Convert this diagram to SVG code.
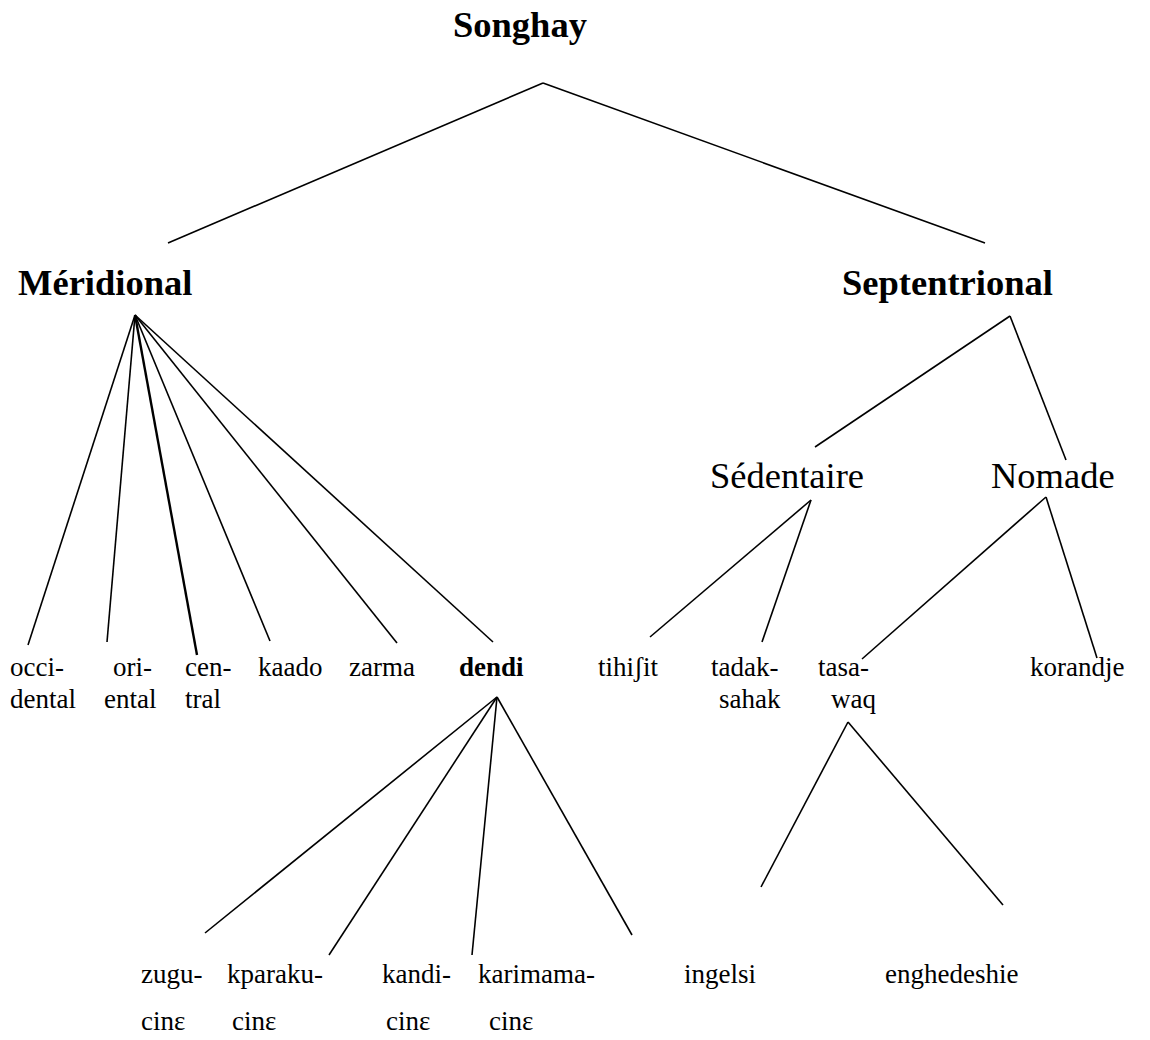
<svg xmlns="http://www.w3.org/2000/svg" width="1150" height="1040" viewBox="0 0 1150 1040">
<style>
text{font-family:"Liberation Serif","Times New Roman",serif;fill:#000}
.big{font-size:36.5px}
.b{font-weight:bold}
.sm{font-size:27px}
#edges line{stroke:#000;stroke-width:1.6;fill:none}
</style>
<rect width="1150" height="1040" fill="#fff"/>
<g id="edges">
<line x1="543" y1="83" x2="168" y2="243"/>
<line x1="543" y1="83" x2="985" y2="243"/>
<line x1="135" y1="315" x2="28" y2="645"/>
<line x1="135" y1="315" x2="107" y2="642"/>
<line x1="135" y1="315" x2="197" y2="655" style="stroke-width:2.4"/>
<line x1="135" y1="315" x2="270" y2="641"/>
<line x1="135" y1="315" x2="397" y2="643"/>
<line x1="135" y1="315" x2="493" y2="642"/>
<line x1="1010" y1="316" x2="815" y2="447"/>
<line x1="1010" y1="316" x2="1066" y2="460"/>
<line x1="811" y1="500" x2="650" y2="637"/>
<line x1="811" y1="500" x2="762" y2="642"/>
<line x1="1046" y1="497" x2="862" y2="659"/>
<line x1="1046" y1="497" x2="1097" y2="658"/>
<line x1="497" y1="697" x2="205" y2="933"/>
<line x1="497" y1="697" x2="329" y2="955"/>
<line x1="497" y1="697" x2="472" y2="955"/>
<line x1="497" y1="697" x2="632" y2="935"/>
<line x1="848" y1="722" x2="761" y2="887"/>
<line x1="848" y1="722" x2="1003" y2="905"/>
</g>
<g id="songhay"><text class="big b" x="453" y="37">Songhay</text></g>
<g id="meridional"><text class="big b" x="18" y="295">Méridional</text></g>
<g id="septentrional"><text class="big b" x="842" y="295">Septentrional</text></g>
<g id="sedentaire"><text class="big" x="710" y="488">Sédentaire</text></g>
<g id="nomade"><text class="big" x="991" y="488">Nomade</text></g>
<g id="occidental"><text class="sm" x="10" y="676">occi-</text><text class="sm" x="10" y="708">dental</text></g>
<g id="oriental"><text class="sm" x="113" y="676">ori-</text><text class="sm" x="104" y="708">ental</text></g>
<g id="central"><text class="sm" x="185" y="676">cen-</text><text class="sm" x="185" y="708">tral</text></g>
<g id="kaado"><text class="sm" x="258" y="676">kaado</text></g>
<g id="zarma"><text class="sm" x="349" y="676">zarma</text></g>
<g id="dendi"><text class="sm b" x="459" y="676">dendi</text></g>
<g id="tihisit"><text class="sm" x="598" y="676">tihiʃit</text></g>
<g id="tadaksahak"><text class="sm" x="711" y="676">tadak-</text><text class="sm" x="719" y="708">sahak</text></g>
<g id="tasawaq"><text class="sm" x="818" y="676">tasa-</text><text class="sm" x="831" y="708">waq</text></g>
<g id="korandje"><text class="sm" x="1030" y="676">korandje</text></g>
<g id="zugucine"><text class="sm" x="141" y="983">zugu-</text><text class="sm" x="141" y="1030">cinɛ</text></g>
<g id="kparakucine"><text class="sm" x="227" y="983">kparaku-</text><text class="sm" x="232" y="1030">cinɛ</text></g>
<g id="kandicine"><text class="sm" x="382" y="983">kandi-</text><text class="sm" x="386" y="1030">cinɛ</text></g>
<g id="karimamacine"><text class="sm" x="478" y="983">karimama-</text><text class="sm" x="489" y="1030">cinɛ</text></g>
<g id="ingelsi"><text class="sm" x="684" y="983">ingelsi</text></g>
<g id="enghedeshie"><text class="sm" x="885" y="983">enghedeshie</text></g>
</svg>
